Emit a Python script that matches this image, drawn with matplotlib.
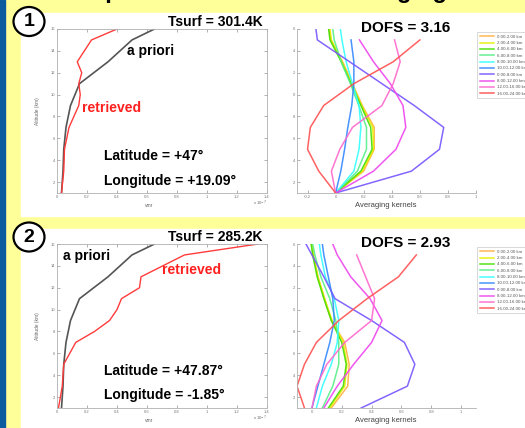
import numpy as np
import matplotlib
matplotlib.use('Agg')
import matplotlib.pyplot as plt
from matplotlib.patches import Rectangle, Ellipse

plt.rcParams['font.family'] = ['Liberation Sans', 'DejaVu Sans']

# a priori profile (same for both sites), vmr in 1e-7
alt_apriori = [1, 3, 5, 7, 9, 11, 13, 15, 16]
vmr_apriori = [0.03, 0.04, 0.045, 0.06, 0.09, 0.15, 0.34, 0.50, 0.65]

# retrieved profiles
alt_ret1 = [1, 3, 5, 7, 9, 10, 11, 12, 13, 15, 16]
vmr_ret1 = [0.03, 0.045, 0.05, 0.08, 0.145, 0.155, 0.145, 0.165, 0.135, 0.23, 0.40]
alt_ret2 = [1, 3, 5, 7, 8, 9, 10, 11, 12, 13, 15, 16]
vmr_ret2 = [0.01, 0.035, 0.045, 0.125, 0.25, 0.35, 0.40, 0.43, 0.55, 0.56, 0.85, 1.34]

# averaging kernels, one row per layer, at ak_alt
ak_alt = [1, 3, 5, 7, 9, 11, 13, 15, 16]
layer_labels = ['0.00-2.00 km', '2.00-4.00 km', '4.00-6.00 km', '6.00-8.00 km',
                '8.00-10.00 km', '10.00-12.00 km', '0.00-8.00 km', '8.00-12.00 km',
                '12.00-16.00 km', '16.00-24.00 km']
nan = np.nan
ak_site1 = [
    [0, 0.20, 0.275, 0.275, 0.19, 0.12, 0.05, -0.035, -0.045],
    [0, 0.19, 0.27, 0.265, 0.185, 0.115, 0.045, -0.03, -0.04],
    [0, 0.18, 0.26, 0.25, 0.18, 0.11, 0.04, -0.04, -0.05],
    [0, 0.155, 0.22, 0.22, 0.165, 0.105, 0.04, -0.01, -0.02],
    [0, 0.13, 0.167, 0.18, 0.167, 0.12, 0.075, 0.045, 0.034],
    [0, 0.037, 0.064, 0.087, 0.115, 0.13, 0.13, 0.11, nan],
    [0, 0.54, 0.74, 0.77, 0.56, 0.33, 0.10, -0.13, -0.14],
    [0, 0.27, 0.43, 0.50, 0.48, 0.39, 0.27, 0.17, nan],
    [0, -0.03, 0.03, 0.12, 0.33, 0.41, 0.46, 0.42, nan],
    [0, -0.12, -0.20, -0.18, -0.085, 0.13, 0.41, 0.60, nan],
]
ak_site2 = [
    [0.13, 0.24, 0.25, 0.22, 0.13, 0.085, 0.04, 0.01, 0.0],
    [0.12, 0.22, 0.235, 0.21, 0.135, 0.085, 0.04, 0.01, 0.0],
    [0.11, 0.21, 0.23, 0.20, 0.13, 0.08, 0.035, 0.005, -0.005],
    [0.07, 0.14, 0.18, 0.18, 0.16, 0.12, 0.06, 0.02, 0.005],
    [0.03, 0.07, 0.13, 0.17, 0.18, 0.15, 0.09, 0.06, 0.05],
    [0.0, 0.04, 0.08, 0.12, 0.15, 0.14, 0.11, 0.08, 0.07],
    [0.33, 0.64, 0.69, 0.62, 0.40, 0.155, 0.08, 0.0, -0.04],
    [0.08, 0.17, 0.28, 0.40, 0.47, 0.39, 0.26, 0.17, 0.14],
    [0.0, 0.03, 0.10, 0.22, 0.40, 0.42, 0.36, 0.30, nan],
    [-0.05, -0.10, -0.05, 0.03, 0.18, 0.37, 0.58, 0.70, nan],
]

site_tsurf = ['Tsurf = 301.4K', 'Tsurf = 285.2K']
site_dofs = ['DOFS = 3.16', 'DOFS = 2.93']
site_lat = ['Latitude = +47°', 'Latitude = +47.87°']
site_lon = ['Longitude = +19.09°', 'Longitude = -1.85°']

layer_colors = ['#ffb040', '#e6f000', '#44dd00', '#55ee88', '#33ffff',
                '#3388ff', '#7755ff', '#ee44ee', '#ff66cc', '#ff5050']

W, H = 525, 428
fig = plt.figure(figsize=(W / 100, H / 100), dpi=100)
fig.patch.set_facecolor('#ffff99')


def fx(x):
    return x / W


def fy(y):
    return 1 - y / H


def rect(x0, y0, x1, y1):
    return [fx(x0), fy(y1), (x1 - x0) / W, (y1 - y0) / H]


# poster background
fig.add_artist(Rectangle((0, 0), fx(5), 1, transform=fig.transFigure,
                         color='#0b5c9e', zorder=-5))
fig.add_artist(Rectangle((fx(21), fy(216)), 1, (216 - 13) / H,
                         transform=fig.transFigure, color='white', zorder=-5))
fig.add_artist(Rectangle((fx(21), 0), 1, (428 - 229) / H,
                         transform=fig.transFigure, color='white', zorder=-5))
# poster title, mostly above the visible area (only descenders show)
fig.text(fx(42), fy(-2), 'Example of retrievals and averaging kernels',
         fontsize=17, weight='bold', va='baseline')

tick_kw = dict(direction='in', length=2, width=0.4, labelsize=3,
               colors='#777777', pad=1.5)


def style_spines(ax, sides):
    for name, s in ax.spines.items():
        s.set_visible(name in sides)
        s.set_color('#b0b0b0')
        s.set_linewidth(0.6)


for i, (alt_r, vmr_r, ak) in enumerate([(alt_ret1, vmr_ret1, ak_site1),
                                         (alt_ret2, vmr_ret2, ak_site2)]):
    dy = 215 * i

    # profile panel
    ax = fig.add_axes(rect(57, 29 + dy, 267, 193 + dy), facecolor='none')
    ax.plot(vmr_apriori, alt_apriori, color='#555555', lw=1.2)
    ax.plot(vmr_r, alt_r, color='#ff3b3b', lw=1.0)
    ax.set_xlim(0, 1.4)
    ax.set_ylim(1, 16)
    ax.set_xticks(np.arange(0, 1.41, 0.2))
    ax.set_xticklabels(['0', '0.2', '0.4', '0.6', '0.8', '1', '1.2', '1.4'])
    ax.set_yticks(range(2, 17, 2))
    ax.tick_params(top=True, right=True, **tick_kw)
    style_spines(ax, ['left', 'right', 'top', 'bottom'])
    fig.text(fx(38), fy(111 + dy), 'Altitude (km)', rotation=90, fontsize=3.5,
             color='#666666', ha='center', va='center')
    fig.text(fx(149), fy(205 + dy), 'vmr', fontsize=3.5, color='#666666',
             ha='center', va='center')
    fig.text(fx(260), fy(203 + dy), r'x 10$^{-7}$', fontsize=3, color='#666666',
             ha='center', va='center')

    # averaging kernel panel
    ax2 = fig.add_axes(rect(297, 29 + dy, 476, 193 + dy), facecolor='none')
    handles = []
    for vals, lab, col in zip(ak, layer_labels, layer_colors):
        h, = ax2.plot(vals, ak_alt, color=col, lw=1.1, alpha=0.9, label=lab)
        handles.append(h)
    if i == 0:
        ax2.set_xlim(-0.275, 1.0)
        ax2.set_xticks([-0.2, 0, 0.2, 0.4, 0.6, 0.8, 1.0])
        ax2.set_xticklabels(['-0.2', '0', '0.2', '0.4', '0.6', '0.8', '1'])
    else:
        ax2.set_xlim(-0.1, 1.1)
        ax2.set_xticks([0, 0.2, 0.4, 0.6, 0.8, 1.0])
        ax2.set_xticklabels(['0', '0.2', '0.4', '0.6', '0.8', '1'])
    ax2.set_ylim(1, 16)
    ax2.set_yticks(range(2, 17, 2))
    ax2.set_yticklabels([str(v)[-1] for v in range(2, 17, 2)])
    ax2.tick_params(**tick_kw)
    style_spines(ax2, ['left', 'bottom'])
    fig.text(fx(386), fy(205 + dy), 'Averaging kernels', fontsize=5.5,
             color='#444444', ha='center', va='center')

    leg = fig.legend(handles, layer_labels, loc='upper left',
                     bbox_to_anchor=(fx(477), fy(32 + dy)), fontsize=3.2,
                     fancybox=False, edgecolor='#bbbbbb', borderaxespad=0,
                     handlelength=3.2, labelspacing=0.5, borderpad=0.6,
                     handletextpad=0.6)
    leg.get_frame().set_linewidth(0.5)
    for t in leg.get_texts():
        t.set_color('#555555')

# annotations
bold = dict(weight='bold', fontsize=10)
fig.text(fx(263), fy(22), site_tsurf[0], ha='right', va='center', **bold)
fig.text(fx(127), fy(51), 'a priori', ha='left', va='center', **bold)
fig.text(fx(82), fy(108), 'retrieved', ha='left', va='center', color='#ff2020', **bold)
fig.text(fx(104), fy(156), site_lat[0], ha='left', va='center', **bold)
fig.text(fx(104), fy(181), site_lon[0], ha='left', va='center', **bold)
fig.text(fx(406), fy(28), site_dofs[0], ha='center', va='center', weight='bold', fontsize=11)

fig.text(fx(263), fy(237), site_tsurf[1], ha='right', va='center', **bold)
fig.text(fx(63), fy(256), 'a priori', ha='left', va='center', **bold)
fig.text(fx(162), fy(270), 'retrieved', ha='left', va='center', color='#ff2020', **bold)
fig.text(fx(104), fy(371), site_lat[1], ha='left', va='center', **bold)
fig.text(fx(104), fy(395), site_lon[1], ha='left', va='center', **bold)
fig.text(fx(406), fy(243), site_dofs[1], ha='center', va='center', weight='bold', fontsize=11)

# numbered circles
for num, cy in [('1', 21.5), ('2', 237)]:
    fig.add_artist(Ellipse((fx(29), fy(cy)), 31 / W, 29 / H, transform=fig.transFigure,
                           facecolor='white', edgecolor='black', lw=1.6, zorder=5))
    fig.text(fx(29), fy(cy), num, ha='center', va='center', weight='bold',
             fontsize=14, zorder=6)

fig.savefig('out.png', dpi=100)
